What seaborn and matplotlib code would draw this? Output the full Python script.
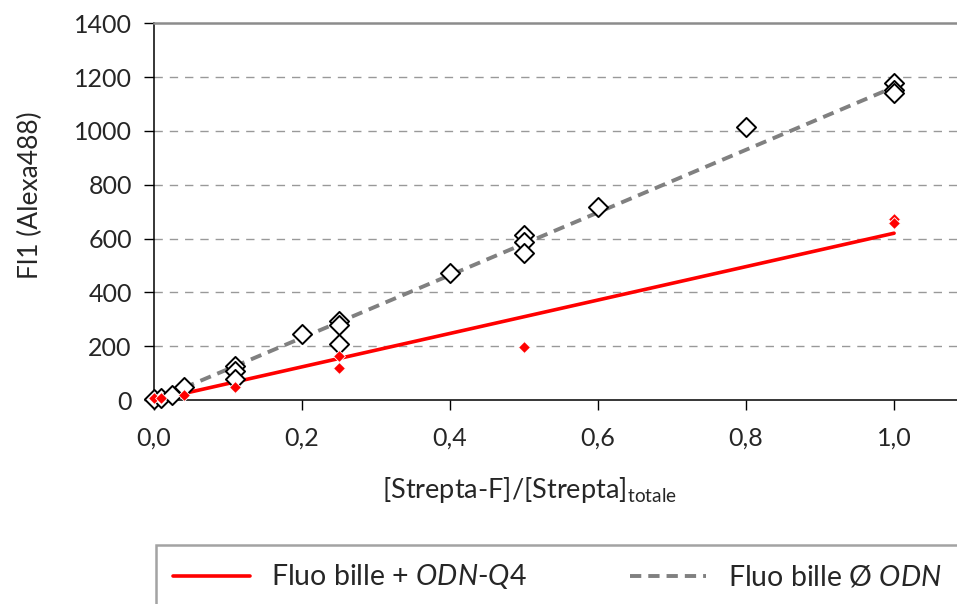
import numpy as np
import pandas as pd
import matplotlib
matplotlib.use("Agg")
import matplotlib.pyplot as plt
import seaborn as sns

# Data
x_odn = [0.0, 0.01, 0.025, 0.04, 0.11, 0.11, 0.11, 0.2, 0.25, 0.25, 0.25,
         0.4, 0.5, 0.5, 0.5, 0.6, 0.8, 1.0, 1.0, 1.0]
y_odn = [4, 8, 18, 47, 128, 109, 80, 244, 295, 280, 208,
         472, 615, 588, 546, 718, 1014, 1177, 1152, 1140]

x_q4 = [0.0, 0.01, 0.04, 0.11, 0.25, 0.25, 0.5, 1.0, 1.0]
y_q4 = [6, 7, 20, 50, 162, 118, 198, 672, 658]

# trend lines (end points)
trend_x = [0.04, 1.0]
trend_q4 = [24, 620]
trend_odn = [45, 1163]

xticks = [0.0, 0.2, 0.4, 0.6, 0.8, 1.0]
xticklabels = ["0,0", "0,2", "0,4", "0,6", "0,8", "1,0"]
yticks = [0, 200, 400, 600, 800, 1000, 1200, 1400]

label_q4 = r"Fluo bille + $\mathit{ODN}$-$\mathit{Q4}$"
label_odn = r"Fluo bille Ø $\mathit{ODN}$"

sns.set_style("white")
plt.rcParams['font.family'] = ['Lato', 'DejaVu Sans']
plt.rcParams['mathtext.fontset'] = 'custom'
plt.rcParams['mathtext.rm'] = 'Lato'
plt.rcParams['mathtext.it'] = 'Lato:italic'

fig = plt.figure(figsize=(9.57, 6.04), dpi=100)
ax = fig.add_axes([0.1609, 0.3377, 0.8391, 0.6237])

odn_pts = pd.DataFrame({"x": x_odn, "y": y_odn})
q4_pts = pd.DataFrame({"x": x_q4, "y": y_q4})
trend = pd.DataFrame({"x": trend_x, "q4": trend_q4, "odn": trend_odn})

# grid
for v in yticks[1:-1]:
    ax.axhline(v, color="#999999", lw=1.0, ls=(0, (6, 5)), zorder=0)

sns.lineplot(data=trend, x="x", y="odn", ax=ax, color="#808080", lw=2.8,
             linestyle=(0, (2.9, 1.8)), zorder=2, label=label_odn)
sns.lineplot(data=trend, x="x", y="q4", ax=ax, color="#ff0000", lw=2.6,
             zorder=3, label=label_q4)
sns.scatterplot(data=odn_pts, x="x", y="y", ax=ax, marker="D", s=95,
                facecolor="white", edgecolor="black", linewidth=1.4,
                zorder=4, clip_on=False)
sns.scatterplot(data=q4_pts, x="x", y="y", ax=ax, marker="D", s=36,
                color="#ff0000", edgecolor="white", linewidth=0.6,
                zorder=5, clip_on=False)

ax.set_xlim(0, 1.085)
ax.set_ylim(0, 1400)
ax.set_xticks(xticks)
ax.set_xticklabels(xticklabels)
ax.set_yticks(yticks)
ax.tick_params(axis="both", which="both", direction="out", length=7,
               width=1, color="black", labelsize=18, pad=9,
               bottom=True, left=True)
ax.tick_params(axis="x", pad=12)

for s in ["left", "bottom"]:
    ax.spines[s].set_color("black")
    ax.spines[s].set_linewidth(1.1)
ax.spines["top"].set_color("#8c8c8c")
ax.spines["top"].set_linewidth(1.8)
ax.spines["right"].set_visible(False)

ax.set_xlabel(r"[Strepta-F]/[Strepta]$_{\mathrm{totale}}$", fontsize=19.5)
ax.xaxis.set_label_coords(0.467, -0.2)
ax.set_ylabel("Fl1 (Alexa488)", fontsize=19)
ax.yaxis.set_label_coords(-0.138, 0.545)

handles, labels = ax.get_legend_handles_labels()
ax.get_legend().remove()
order = [1, 0]
leg = fig.legend([handles[i] for i in order], [labels[i] for i in order],
                 loc="upper left", bbox_to_anchor=(0.163, 0.097), ncol=2,
                 fontsize=20.5, frameon=True, fancybox=False, borderpad=0.6,
                 handlelength=2.7, handletextpad=0.75, columnspacing=3.6,
                 borderaxespad=0)
leg.get_frame().set_edgecolor("#8c8c8c")
leg.get_frame().set_linewidth(1.8)

fig.savefig("out.png", dpi=100)
